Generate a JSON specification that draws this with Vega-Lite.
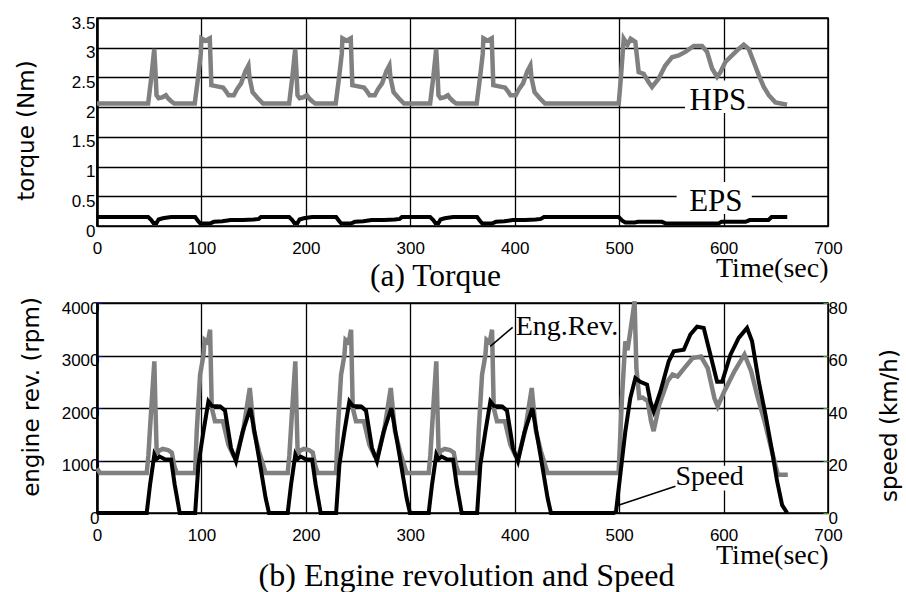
{
  "$schema": "https://vega.github.io/schema/vega-lite/v6.json",
  "background": "white",
  "padding": {"left": 14, "top": 13, "right": 0, "bottom": 0},
  "spacing": -3,
  "config": {
    "view": {"stroke": "black", "strokeWidth": 1.5},
    "axis": {"gridColor": "black", "gridOpacity": 1, "gridWidth": 1.3, "labelFont": "Liberation Sans", "labelFontSize": 17, "labelColor": "black", "titleFont": "DejaVu Sans", "titleFontWeight": "normal", "titleColor": "black", "titleFontSize": 23}
  },
  "datasets": {
    "hps": [
      {"t":0,"v":2.06},{"t":49,"v":2.06},{"t":52,"v":2.5},{"t":54.8,"v":2.98},{"t":56,"v":2.6},{"t":57,"v":2.2},{"t":59,"v":2.15},{"t":63,"v":2.17},{"t":66,"v":2.2},{"t":68,"v":2.15},{"t":71,"v":2.1},{"t":74,"v":2.06},{"t":93.6,"v":2.06},{"t":96.8,"v":2.5},{"t":99.4,"v":2.9},{"t":100,"v":3.16},{"t":104,"v":3.12},{"t":108,"v":3.16},{"t":109.5,"v":2.37},{"t":115,"v":2.35},{"t":120.7,"v":2.33},{"t":123,"v":2.28},{"t":126,"v":2.2},{"t":131,"v":2.2},{"t":134,"v":2.3},{"t":138,"v":2.4},{"t":142,"v":2.6},{"t":145,"v":2.7},{"t":146,"v":2.5},{"t":149,"v":2.25},{"t":154,"v":2.15},{"t":159,"v":2.06},
      {"t":184,"v":2.06},{"t":187,"v":2.5},{"t":189.8,"v":2.98},{"t":191,"v":2.6},{"t":192,"v":2.2},{"t":194,"v":2.15},{"t":198,"v":2.17},{"t":201,"v":2.2},{"t":203,"v":2.15},{"t":206,"v":2.1},{"t":209,"v":2.06},{"t":228.6,"v":2.06},{"t":231.8,"v":2.5},{"t":234.4,"v":2.9},{"t":235,"v":3.16},{"t":239,"v":3.12},{"t":243,"v":3.16},{"t":244.5,"v":2.37},{"t":250,"v":2.35},{"t":255.7,"v":2.33},{"t":258,"v":2.28},{"t":261,"v":2.2},{"t":266,"v":2.2},{"t":269,"v":2.3},{"t":273,"v":2.4},{"t":277,"v":2.6},{"t":280,"v":2.7},{"t":281,"v":2.5},{"t":284,"v":2.25},{"t":289,"v":2.15},{"t":294,"v":2.06},
      {"t":319,"v":2.06},{"t":322,"v":2.5},{"t":324.8,"v":2.98},{"t":326,"v":2.6},{"t":327,"v":2.2},{"t":329,"v":2.15},{"t":333,"v":2.17},{"t":336,"v":2.2},{"t":338,"v":2.15},{"t":341,"v":2.1},{"t":344,"v":2.06},{"t":363.6,"v":2.06},{"t":366.8,"v":2.5},{"t":369.4,"v":2.9},{"t":370,"v":3.16},{"t":374,"v":3.12},{"t":378,"v":3.16},{"t":379.5,"v":2.37},{"t":385,"v":2.35},{"t":390.7,"v":2.33},{"t":393,"v":2.28},{"t":396,"v":2.2},{"t":401,"v":2.2},{"t":404,"v":2.3},{"t":408,"v":2.4},{"t":412,"v":2.6},{"t":415,"v":2.7},{"t":416,"v":2.5},{"t":419,"v":2.25},{"t":424,"v":2.15},{"t":429,"v":2.06},
      {"t":499.6,"v":2.06},{"t":501.7,"v":2.5},{"t":504.4,"v":3.15},{"t":508,"v":3.05},{"t":511,"v":3.15},{"t":515.5,"v":3.1},{"t":518.7,"v":2.59},{"t":523.5,"v":2.56},{"t":528.3,"v":2.42},{"t":531.5,"v":2.34},{"t":537.9,"v":2.48},{"t":544.2,"v":2.7},{"t":550.6,"v":2.84},{"t":557,"v":2.87},{"t":563.4,"v":2.93},{"t":571.4,"v":3.03},{"t":579.4,"v":3.03},{"t":584.2,"v":2.93},{"t":589,"v":2.65},{"t":593.8,"v":2.51},{"t":597,"v":2.59},{"t":601.7,"v":2.76},{"t":608.1,"v":2.87},{"t":614.5,"v":2.98},{"t":619.3,"v":3.05},{"t":624.1,"v":2.98},{"t":628.9,"v":2.76},{"t":633.7,"v":2.54},{"t":638.5,"v":2.34},{"t":643.3,"v":2.2},{"t":649.6,"v":2.08},{"t":660.8,"v":2.04}
    ],
    "eps": [
      {"t":0,"v":0.15},{"t":49,"v":0.15},{"t":52,"v":0.1},{"t":54,"v":0.05},{"t":57,"v":0.05},{"t":59,"v":0.11},{"t":63,"v":0.13},{"t":66,"v":0.14},{"t":71,"v":0.15},{"t":94,"v":0.15},{"t":97,"v":0.08},{"t":99,"v":0.04},{"t":108,"v":0.04},{"t":112,"v":0.07},{"t":120,"v":0.08},{"t":128,"v":0.1},{"t":140,"v":0.1},{"t":150,"v":0.11},{"t":155,"v":0.12},{"t":157,"v":0.15},
      {"t":184,"v":0.15},{"t":187,"v":0.1},{"t":189,"v":0.05},{"t":192,"v":0.05},{"t":194,"v":0.11},{"t":198,"v":0.13},{"t":201,"v":0.14},{"t":206,"v":0.15},{"t":229,"v":0.15},{"t":232,"v":0.08},{"t":234,"v":0.04},{"t":243,"v":0.04},{"t":247,"v":0.07},{"t":255,"v":0.08},{"t":263,"v":0.1},{"t":275,"v":0.1},{"t":285,"v":0.11},{"t":290,"v":0.12},{"t":292,"v":0.15},
      {"t":319,"v":0.15},{"t":322,"v":0.1},{"t":324,"v":0.05},{"t":327,"v":0.05},{"t":329,"v":0.11},{"t":333,"v":0.13},{"t":336,"v":0.14},{"t":341,"v":0.15},{"t":364,"v":0.15},{"t":367,"v":0.08},{"t":369,"v":0.04},{"t":378,"v":0.04},{"t":382,"v":0.07},{"t":390,"v":0.08},{"t":398,"v":0.1},{"t":410,"v":0.1},{"t":420,"v":0.11},{"t":425,"v":0.12},{"t":428,"v":0.15},
      {"t":499.6,"v":0.15},{"t":503,"v":0.09},{"t":506,"v":0.06},{"t":515,"v":0.06},{"t":518,"v":0.07},{"t":541,"v":0.07},{"t":545,"v":0.04},{"t":595,"v":0.04},{"t":598,"v":0.07},{"t":621,"v":0.07},{"t":625,"v":0.1},{"t":643,"v":0.1},{"t":646,"v":0.15},{"t":661,"v":0.15}
    ],
    "rev": [
      {"t":0,"v":850},{"t":3,"v":760},{"t":47.6,"v":760},{"t":49.2,"v":1100},{"t":52,"v":2000},{"t":54.9,"v":2890},{"t":56,"v":2000},{"t":57.2,"v":1110},{"t":59,"v":1180},{"t":63,"v":1220},{"t":68,"v":1200},{"t":71.6,"v":1150},{"t":74,"v":900},{"t":76.3,"v":760},{"t":93.9,"v":760},{"t":95.5,"v":1560},{"t":98.7,"v":2630},{"t":101.9,"v":3000},{"t":103,"v":3300},{"t":106,"v":3250},{"t":108.3,"v":3490},{"t":109.9,"v":2000},{"t":113,"v":1750},{"t":120.6,"v":1750},{"t":125.8,"v":1300},{"t":130.6,"v":1100},{"t":133.8,"v":1100},{"t":139.9,"v":1560},{"t":146.3,"v":2380},{"t":150.3,"v":1560},{"t":155.1,"v":1175},{"t":161.5,"v":760},
      {"t":182.6,"v":760},{"t":184.2,"v":1100},{"t":187,"v":2000},{"t":189.9,"v":2890},{"t":191,"v":2000},{"t":192.2,"v":1110},{"t":194,"v":1180},{"t":198,"v":1220},{"t":203,"v":1200},{"t":206.6,"v":1150},{"t":209,"v":900},{"t":211.3,"v":760},{"t":228.9,"v":760},{"t":230.5,"v":1560},{"t":233.7,"v":2630},{"t":236.9,"v":3000},{"t":238,"v":3300},{"t":241,"v":3250},{"t":243.3,"v":3490},{"t":244.9,"v":2000},{"t":248,"v":1750},{"t":255.6,"v":1750},{"t":260.8,"v":1300},{"t":265.6,"v":1100},{"t":268.8,"v":1100},{"t":274.9,"v":1560},{"t":281.3,"v":2380},{"t":285.3,"v":1560},{"t":290.1,"v":1175},{"t":296.5,"v":760},
      {"t":317.6,"v":760},{"t":319.2,"v":1100},{"t":322,"v":2000},{"t":324.9,"v":2890},{"t":326,"v":2000},{"t":327.2,"v":1110},{"t":329,"v":1180},{"t":333,"v":1220},{"t":338,"v":1200},{"t":341.6,"v":1150},{"t":344,"v":900},{"t":346.3,"v":760},{"t":363.9,"v":760},{"t":365.5,"v":1560},{"t":368.7,"v":2630},{"t":371.9,"v":3000},{"t":373,"v":3300},{"t":376,"v":3250},{"t":378.3,"v":3490},{"t":379.9,"v":2000},{"t":383,"v":1750},{"t":390.6,"v":1750},{"t":395.8,"v":1300},{"t":400.6,"v":1100},{"t":403.8,"v":1100},{"t":409.9,"v":1560},{"t":416.3,"v":2380},{"t":420.3,"v":1560},{"t":425.1,"v":1175},{"t":431.5,"v":760},
      {"t":499.5,"v":760},{"t":502.7,"v":2190},{"t":505.9,"v":3270},{"t":508,"v":3100},{"t":511,"v":3500},{"t":514.8,"v":4030},{"t":516.5,"v":2760},{"t":519.3,"v":2190},{"t":522.5,"v":2200},{"t":527.3,"v":2130},{"t":530.5,"v":1750},{"t":533,"v":1560},{"t":538.4,"v":2060},{"t":546.4,"v":2510},{"t":551.2,"v":2640},{"t":556,"v":2600},{"t":562.4,"v":2760},{"t":570.4,"v":2950},{"t":578.4,"v":2980},{"t":584.8,"v":2760},{"t":591.2,"v":2190},{"t":594.4,"v":2030},{"t":600.8,"v":2320},{"t":610.4,"v":2700},{"t":620,"v":3020},{"t":626.4,"v":2700},{"t":632.8,"v":2190},{"t":639.2,"v":1750},{"t":645.5,"v":1240},{"t":650.3,"v":860},{"t":652,"v":730},{"t":661.5,"v":730}
    ],
    "speed": [
      {"t":0,"s":0},{"t":47.6,"s":0},{"t":50.8,"s":10.8},{"t":54.9,"s":22.2},{"t":57,"s":20.5},{"t":60,"s":21.5},{"t":65,"s":20.5},{"t":71,"s":20.3},{"t":74.4,"s":10.8},{"t":79.2,"s":0},{"t":94,"s":0},{"t":97.1,"s":18.4},{"t":101.9,"s":31},{"t":106.7,"s":42.5},{"t":110,"s":40.8},{"t":118,"s":40.6},{"t":122.6,"s":39},{"t":128.3,"s":24.8},{"t":133.1,"s":19.7},{"t":139.5,"s":31},{"t":146.9,"s":40},{"t":155.1,"s":21},{"t":161.5,"s":5.7},{"t":164.7,"s":0},
      {"t":182.6,"s":0},{"t":185.8,"s":10.8},{"t":189.9,"s":22.2},{"t":192,"s":20.5},{"t":195,"s":21.5},{"t":200,"s":20.5},{"t":206,"s":20.3},{"t":209.4,"s":10.8},{"t":214.2,"s":0},{"t":229,"s":0},{"t":232.1,"s":18.4},{"t":236.9,"s":31},{"t":241.7,"s":42.5},{"t":245,"s":40.8},{"t":253,"s":40.6},{"t":257.6,"s":39},{"t":263.3,"s":24.8},{"t":268.1,"s":19.7},{"t":274.5,"s":31},{"t":281.9,"s":40},{"t":290.1,"s":21},{"t":296.5,"s":5.7},{"t":299.7,"s":0},
      {"t":317.6,"s":0},{"t":320.8,"s":10.8},{"t":324.9,"s":22.2},{"t":327,"s":20.5},{"t":330,"s":21.5},{"t":335,"s":20.5},{"t":341,"s":20.3},{"t":344.4,"s":10.8},{"t":349.2,"s":0},{"t":364,"s":0},{"t":367.1,"s":18.4},{"t":371.9,"s":31},{"t":376.7,"s":42.5},{"t":380,"s":40.8},{"t":388,"s":40.6},{"t":392.6,"s":39},{"t":398.3,"s":24.8},{"t":403.1,"s":19.7},{"t":409.5,"s":31},{"t":416.9,"s":40},{"t":425.1,"s":21},{"t":431.5,"s":5.7},{"t":434.7,"s":0},
      {"t":494.8,"s":0},{"t":497,"s":0.5},{"t":501.1,"s":14.6},{"t":505.9,"s":31},{"t":510.7,"s":43.8},{"t":515.5,"s":51.4},{"t":520.3,"s":50},{"t":526.7,"s":48.9},{"t":529.9,"s":42.5},{"t":533.1,"s":38.7},{"t":539.5,"s":46.3},{"t":547.5,"s":57.8},{"t":552.3,"s":61.6},{"t":561.9,"s":62.2},{"t":568.2,"s":68},{"t":574.6,"s":71},{"t":581,"s":70.5},{"t":587.4,"s":60.3},{"t":593.8,"s":50},{"t":598.6,"s":50},{"t":606.6,"s":60.3},{"t":614.5,"s":66.7},{"t":622.5,"s":70.5},{"t":627.3,"s":65.4},{"t":633.7,"s":50},{"t":640.1,"s":37.5},{"t":646.5,"s":23.5},{"t":651.3,"s":12},{"t":656.1,"s":3},{"t":660.9,"s":0}
    ]
  },
  "vconcat": [
    {
      "width": 731,
      "height": 208,
      "title": {"text": "(a) Torque", "orient": "bottom", "anchor": "middle", "frame": "group", "font": "Liberation Serif", "fontSize": 31.5, "fontWeight": "normal", "color": "black", "dx": -27, "offset": -21},
      "encoding": {
        "x": {"field": "t", "type": "quantitative", "scale": {"domain": [0, 700], "nice": false},
          "axis": {"values": [0,100,200,300,400,500,600,700], "labelFlush": false, "labelPadding": 14, "ticks": false, "domain": false, "grid": true,
            "title": "Time(sec)", "titleFont": "Liberation Serif", "titleFontSize": 28, "titleAnchor": "end", "titlePadding": -2}},
        "y": {"field": "v", "type": "quantitative", "scale": {"domain": [0, 3.5], "nice": false},
          "axis": {"values": [0,0.5,1,1.5,2,2.5,3,3.5], "labelExpr": "'' + datum.value", "ticks": false, "labelPadding": 2, "labelOffset": 5, "domain": true, "domainColor": "black", "domainWidth": 2.5, "grid": true,
            "title": "torque (Nm)", "titleAlign": "center", "titlePadding": 33, "titleY": 112}}
      },
      "layer": [
        {"data": {"values": [{"t":563,"t2":623,"v":1.9,"v2":2.45},{"t":555,"t2":627,"v":0.2,"v2":0.74}]},
         "mark": {"type": "rect", "color": "white"},
         "encoding": {"x2": {"field": "t2"}, "y2": {"field": "v2"}}},
        {"data": {"name": "hps"}, "mark": {"type": "line", "color": "#808080", "strokeWidth": 4.5}},
        {"data": {"name": "eps"}, "mark": {"type": "line", "color": "black", "strokeWidth": 4}},
        {"data": {"values": [{"t":594.6,"v":2.1,"label":"HPS"},{"t":592.6,"v":0.4,"label":"EPS"}]},
         "mark": {"type": "text", "font": "Liberation Serif", "fontSize": 31, "color": "black", "align": "center", "baseline": "middle"},
         "encoding": {"text": {"field": "label"}}}
      ]
    },
    {
      "width": 731,
      "height": 210,
      "title": {"text": "(b) Engine revolution and Speed", "orient": "bottom", "anchor": "middle", "frame": "group", "font": "Liberation Serif", "fontSize": 32, "fontWeight": "normal", "color": "black", "dx": 4, "offset": -8},
      "encoding": {
        "x": {"field": "t", "type": "quantitative", "scale": {"domain": [0, 700], "nice": false},
          "axis": {"values": [0,100,200,300,400,500,600,700], "labelFlush": false, "labelPadding": 14, "ticks": false, "domain": false, "grid": true,
            "title": "Time(sec)", "titleFont": "Liberation Serif", "titleFontSize": 28, "titleAnchor": "end", "titlePadding": -2}}
      },
      "layer": [
        {
          "encoding": {
            "y": {"field": "v", "type": "quantitative", "scale": {"domain": [0, 4000], "nice": false},
              "axis": {"orient": "left", "values": [0,1000,2000,3000,4000], "labelExpr": "'' + datum.value", "ticks": true, "tickColor": "blue", "tickSize": -4, "labelPadding": 2, "labelOffset": 5, "domain": true, "domainColor": "black", "domainWidth": 2.5, "grid": true,
                "title": "engine rev. (rpm)", "titleAlign": "center", "titlePadding": 18, "titleY": 93.5}}
          },
          "layer": [
            {"data": {"values": [{"t":551,"t2":622,"v":430,"v2":900}]},
             "mark": {"type": "rect", "color": "white"},
             "encoding": {"x2": {"field": "t2"}, "y2": {"field": "v2"}}},
            {"data": {"name": "rev"}, "mark": {"type": "line", "color": "#808080", "strokeWidth": 4.5}},
            {"data": {"values": [{"t":398,"v":3537,"t2":376.6,"v2":3175},{"t":553.9,"v":509,"t2":496.4,"v2":128}]},
             "mark": {"type": "rule", "color": "black", "strokeWidth": 1.5},
             "encoding": {"x2": {"field": "t2"}, "y2": {"field": "v2"}}},
            {"data": {"values": [{"t":401,"v":3540,"label":"Eng.Rev."},{"t":553.9,"v":690,"label":"Speed"}]},
             "mark": {"type": "text", "font": "Liberation Serif", "fontSize": 28, "color": "black", "align": "left", "baseline": "middle"},
             "encoding": {"text": {"field": "label"}}}
          ]
        },
        {
          "data": {"name": "speed"},
          "mark": {"type": "line", "color": "black", "strokeWidth": 4},
          "encoding": {
            "y": {"field": "s", "type": "quantitative", "scale": {"domain": [0, 80], "nice": false},
              "axis": {"orient": "right", "values": [0,20,40,60,80], "labelExpr": "'' + datum.value", "ticks": true, "tickColor": "#2ca02c", "tickSize": -5, "labelPadding": 5, "labelOffset": 5, "domain": false, "grid": false,
                "title": "speed (km/h)", "titleAngle": 270, "titleAlign": "center", "titleBaseline": "top", "titlePadding": 32, "titleY": 122}}
          }
        }
      ],
      "resolve": {"scale": {"y": "independent"}}
    }
  ]
}
